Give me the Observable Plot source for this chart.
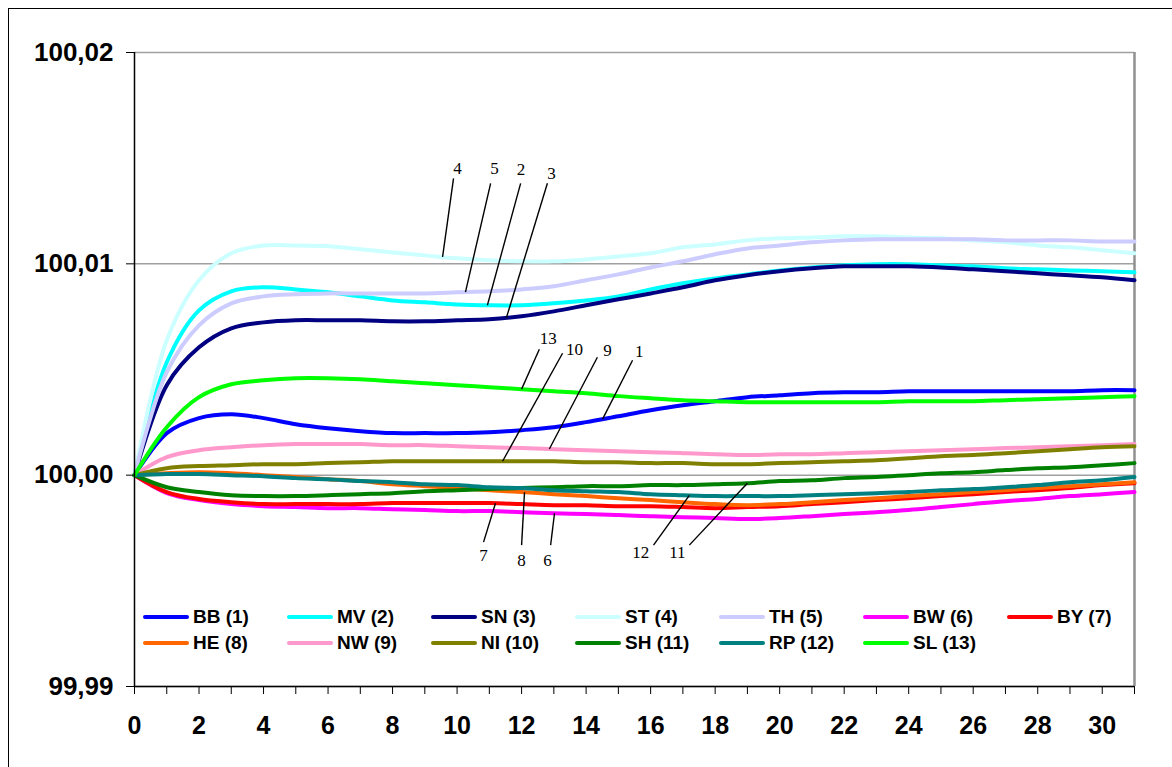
<!DOCTYPE html>
<html>
<head>
<meta charset="utf-8">
<script src="https://cdn.jsdelivr.net/npm/d3@7"></script>
<script src="https://cdn.jsdelivr.net/npm/@observablehq/plot@0.6"></script>
<style>
  html, body { margin: 0; padding: 0; background: #fff; overflow: hidden; }
  #wrap { position: relative; width: 1172px; height: 767px; overflow: hidden; }
  #frame { position: absolute; left: 8px; top: 8px; width: 1200px; height: 800px; border: 1.5px solid #000; box-sizing: border-box; pointer-events: none; }
  #chart { position: absolute; left: 0; top: 0; }
  #legend { position: absolute; left: 0; top: 0; width: 1172px; height: 767px; pointer-events: none; }
  .item { position: absolute; height: 22px; display: flex; align-items: center; }
  .swatch { width: 46px; height: 4.5px; border-radius: 2px; }
  .lab { font-family: "Liberation Sans", Arial, sans-serif; font-weight: bold; font-size: 19px; color: #000;
         white-space: nowrap; margin-left: 4px; }
</style>
</head>
<body>
<div id="wrap">
  <div id="chart"></div>
  <div id="legend"></div>
  <div id="frame"></div>
</div>
<script>
// ---- data ----
const periods = [0,1,2,3,4,5,6,7,8,9,10,11,12,13,14,15,16,17,18,19,20,21,22,23,24,25,26,27,28,29,30,31];
const names = ["BB (1)","MV (2)","SN (3)","ST (4)","TH (5)","BW (6)","BY (7)","HE (8)","NW (9)","NI (10)","SH (11)","RP (12)","SL (13)"];
const colors = ["#0000FF","#00FFFF","#000080","#CCFFFF","#CCCCFF","#FF00FF","#FF0000","#FF6600","#FF99CC","#808000","#008000","#008080","#00FF00"];

const BB = [100, 100.00199, 100.0027, 100.00288, 100.0027, 100.00241, 100.00222, 100.00208, 100.00199, 100.00199, 100.00199, 100.00203, 100.00213, 100.00227, 100.00251, 100.00279, 100.00307, 100.00331, 100.0035, 100.00369, 100.00378, 100.00388, 100.00392, 100.00392, 100.00397, 100.00397, 100.00397, 100.00397, 100.00397, 100.00397, 100.00402, 100.00402];
const MV = [100, 100.00534, 100.0078, 100.0087, 100.00889, 100.00879, 100.00865, 100.00846, 100.00827, 100.00818, 100.00808, 100.00804, 100.00804, 100.00813, 100.00827, 100.00846, 100.00879, 100.00908, 100.00931, 100.0095, 100.00969, 100.00983, 100.00993, 100.00998, 100.00998, 100.00993, 100.00988, 100.00979, 100.00974, 100.00969, 100.00965, 100.0096];
const SN = [100, 100.00426, 100.00605, 100.00695, 100.00723, 100.00733, 100.00733, 100.00733, 100.00728, 100.00728, 100.00733, 100.00738, 100.00752, 100.00775, 100.00804, 100.00832, 100.0086, 100.00889, 100.00922, 100.00946, 100.00965, 100.00979, 100.00988, 100.00988, 100.00988, 100.00983, 100.00974, 100.00965, 100.00955, 100.00946, 100.00936, 100.00922];
const ST = [100, 100.00638, 100.00922, 100.0105, 100.01087, 100.01087, 100.01083, 100.01069, 100.01054, 100.0104, 100.01026, 100.01017, 100.01012, 100.01012, 100.01021, 100.01035, 100.0105, 100.01078, 100.01092, 100.01111, 100.01121, 100.01125, 100.0113, 100.0113, 100.01125, 100.01121, 100.01111, 100.01102, 100.01087, 100.01078, 100.01064, 100.0105];
const TH = [100, 100.00487, 100.00709, 100.00813, 100.00846, 100.00856, 100.0086, 100.0086, 100.0086, 100.0086, 100.00865, 100.0087, 100.00879, 100.00894, 100.00922, 100.0095, 100.00983, 100.01012, 100.01045, 100.01073, 100.01087, 100.01102, 100.01111, 100.01116, 100.01116, 100.01116, 100.01116, 100.01111, 100.01111, 100.01111, 100.01106, 100.01106];
const BW = [100, 99.99915, 99.99882, 99.99863, 99.99853, 99.99849, 99.99844, 99.99844, 99.99839, 99.99835, 99.9983, 99.9983, 99.99825, 99.9982, 99.99816, 99.99811, 99.99806, 99.99801, 99.99797, 99.99792, 99.99797, 99.99806, 99.99816, 99.99825, 99.99835, 99.99849, 99.99863, 99.99877, 99.99887, 99.99901, 99.9991, 99.9992];
const BY = [100, 99.9992, 99.99887, 99.99872, 99.99863, 99.99863, 99.99863, 99.99863, 99.99868, 99.99868, 99.99868, 99.99868, 99.99863, 99.99858, 99.99858, 99.99853, 99.99853, 99.99849, 99.99844, 99.99849, 99.99853, 99.99863, 99.99872, 99.99882, 99.99891, 99.99901, 99.9991, 99.9992, 99.99929, 99.99939, 99.99953, 99.99962];
const HE = [100, 100.00009, 100.00014, 100.00009, 100, 99.99991, 99.99981, 99.99972, 99.99957, 99.99948, 99.99939, 99.99929, 99.9992, 99.9991, 99.99901, 99.99891, 99.99882, 99.99872, 99.99863, 99.99858, 99.99863, 99.99872, 99.99882, 99.99891, 99.99901, 99.9991, 99.9992, 99.99929, 99.99939, 99.99948, 99.99957, 99.99967];
const NW = [100, 100.00085, 100.00118, 100.00132, 100.00142, 100.00147, 100.00147, 100.00147, 100.00142, 100.00142, 100.00137, 100.00132, 100.00128, 100.00123, 100.00118, 100.00113, 100.00109, 100.00104, 100.00099, 100.00095, 100.00099, 100.00099, 100.00104, 100.00109, 100.00113, 100.00118, 100.00123, 100.00128, 100.00132, 100.00137, 100.00142, 100.00147];
const NI = [100, 100.00033, 100.00043, 100.00047, 100.00052, 100.00052, 100.00057, 100.00061, 100.00066, 100.00066, 100.00066, 100.00066, 100.00066, 100.00066, 100.00061, 100.00061, 100.00057, 100.00057, 100.00052, 100.00052, 100.00057, 100.00061, 100.00066, 100.00071, 100.0008, 100.0009, 100.00095, 100.00104, 100.00113, 100.00123, 100.00132, 100.00137];
const SH = [100, 99.99943, 99.9992, 99.99905, 99.99901, 99.99901, 99.99905, 99.9991, 99.99915, 99.99924, 99.99929, 99.99934, 99.99939, 99.99943, 99.99948, 99.99948, 99.99953, 99.99953, 99.99957, 99.99962, 99.99972, 99.99976, 99.99986, 99.99991, 100, 100.00009, 100.00014, 100.00024, 100.00033, 100.00038, 100.00047, 100.00057];
const RP = [100, 100.00005, 100.00005, 100, 99.99995, 99.99986, 99.99981, 99.99972, 99.99967, 99.99957, 99.99953, 99.99943, 99.99939, 99.99929, 99.99924, 99.9992, 99.9991, 99.99905, 99.99901, 99.99901, 99.99901, 99.99905, 99.9991, 99.99915, 99.9992, 99.99929, 99.99934, 99.99943, 99.99953, 99.99967, 99.99976, 99.99991];
const SL = [100, 100.00227, 100.00369, 100.0043, 100.00449, 100.00459, 100.00459, 100.00454, 100.00444, 100.00435, 100.00426, 100.00416, 100.00407, 100.00397, 100.00388, 100.00374, 100.00364, 100.00355, 100.0035, 100.00345, 100.00345, 100.00345, 100.00345, 100.00345, 100.0035, 100.0035, 100.0035, 100.00355, 100.00359, 100.00364, 100.00369, 100.00374];
const seriesValues = [BB, MV, SN, ST, TH, BW, BY, HE, NW, NI, SH, RP, SL];

const yTicks = [99.99, 100.00, 100.01, 100.02];
const xLabelStep = 2;

// callout annotations (number labels with leader lines)
const annLabels  = ["4","5","2","3","13","10","9","1","7","8","6","12","11"];
const annSeries  = [3, 4, 1, 2, 12, 9, 8, 0, 6, 7, 5, 11, 10];
const annAnchorX = [9.55, 10.26, 10.94, 11.53, 12.0, 11.41, 12.86, 14.51, 11.19, 12.09, 13.02, 17.2, 19.0];
const annEndX    = [9.89, 11.04, 11.97, 12.80, 12.55, 13.27, 14.35, 15.44, 10.82, 12.0, 12.90, 16.09, 17.2];
const annEndY    = [100.01404, 100.01381, 100.01381, 100.01381, 100.00596, 100.00577, 100.00558, 100.00544, 99.99683, 99.99669, 99.99669, 99.99669, 99.99669];
const annLabelX  = [10.01, 11.16, 11.98, 12.93, 12.83, 13.64, 14.66, 15.65, 10.82, 12.0, 12.80, 15.69, 16.83];
const annLabelY  = [100.01452, 100.01452, 100.01447, 100.01428, 100.00648, 100.00596, 100.00591, 100.00586, 99.99622, 99.99598, 99.99598, 99.99636, 99.99636];

// ---- build tables ----
const table = [];
seriesValues.forEach((vals, s) => {
  vals.forEach((v, i) => table.push({t: periods[i], v, name: names[s]}));
});
function valueAt(vals, x) {
  const i = Math.min(Math.floor(x), vals.length - 2);
  const f = x - i;
  return vals[i] * (1 - f) + vals[i + 1] * f;
}
const ann = annLabels.map((label, k) => ({
  label,
  ax: annAnchorX[k], ay: valueAt(seriesValues[annSeries[k]], annAnchorX[k]),
  ex: annEndX[k], ey: annEndY[k],
  lx: annLabelX[k], ly: annLabelY[k]
}));

const fmtY = d => d.toFixed(2).replace(".", ",");

const plot = Plot.plot({
  width: 1172,
  height: 767,
  marginLeft: 134,
  marginRight: 38,
  marginTop: 52,
  marginBottom: 81,
  style: {background: "transparent", fontFamily: "'Liberation Sans', Arial, sans-serif", color: "#000", overflow: "visible"},
  x: {domain: [0, 31]},
  y: {domain: [99.99, 100.02]},
  color: {domain: names, range: colors},
  marks: [
    Plot.gridY(yTicks, {stroke: "#a0a0a0", strokeOpacity: 1, strokeWidth: 1.5}),
    Plot.ruleX([31], {stroke: "#909090", strokeWidth: 2.5}),
    Plot.lineY(table, {x: "t", y: "v", z: "name", stroke: "name", strokeWidth: 4, curve: "catmull-rom"}),
    Plot.link(ann, {x1: "ax", y1: "ay", x2: "ex", y2: "ey", stroke: "#000", strokeWidth: 1.4}),
    Plot.text(ann, {x: "lx", y: "ly", text: "label", fontFamily: "'Liberation Serif', 'Times New Roman', serif", fontSize: 17, fill: "#000", textAnchor: "middle", lineAnchor: "middle"}),
    Plot.ruleX([0], {stroke: "#000", strokeWidth: 1.5}),
    Plot.ruleY([99.99], {stroke: "#000", strokeWidth: 1.5}),
    Plot.axisY({ticks: yTicks, tickFormat: fmtY, tickSize: 8, tickPadding: 13, fontSize: 26, fontWeight: "bold", label: null, stroke: "#000"}),
    Plot.axisX({ticks: periods, tickFormat: d => (d % xLabelStep === 0 && d <= 30) ? String(d) : "", tickSize: 8, tickPadding: 22, fontSize: 25, fontWeight: "bold", label: null, stroke: "#000"})
  ]
});
document.getElementById("chart").appendChild(plot);

// ---- legend (HTML, inside the lower part of the plot area) ----
const legend = document.getElementById("legend");
const colStep = 144, legLeft = 143, rowTops = [606, 632], perRow = 7;
names.forEach((n, i) => {
  const row = Math.floor(i / perRow), col = i % perRow;
  const item = document.createElement("div");
  item.className = "item";
  item.style.left = (legLeft + col * colStep) + "px";
  item.style.top = rowTops[row] + "px";
  const sw = document.createElement("div");
  sw.className = "swatch";
  sw.style.background = colors[i];
  const lab = document.createElement("span");
  lab.className = "lab";
  lab.textContent = n;
  item.appendChild(sw);
  item.appendChild(lab);
  legend.appendChild(item);
});
</script>
</body>
</html>
